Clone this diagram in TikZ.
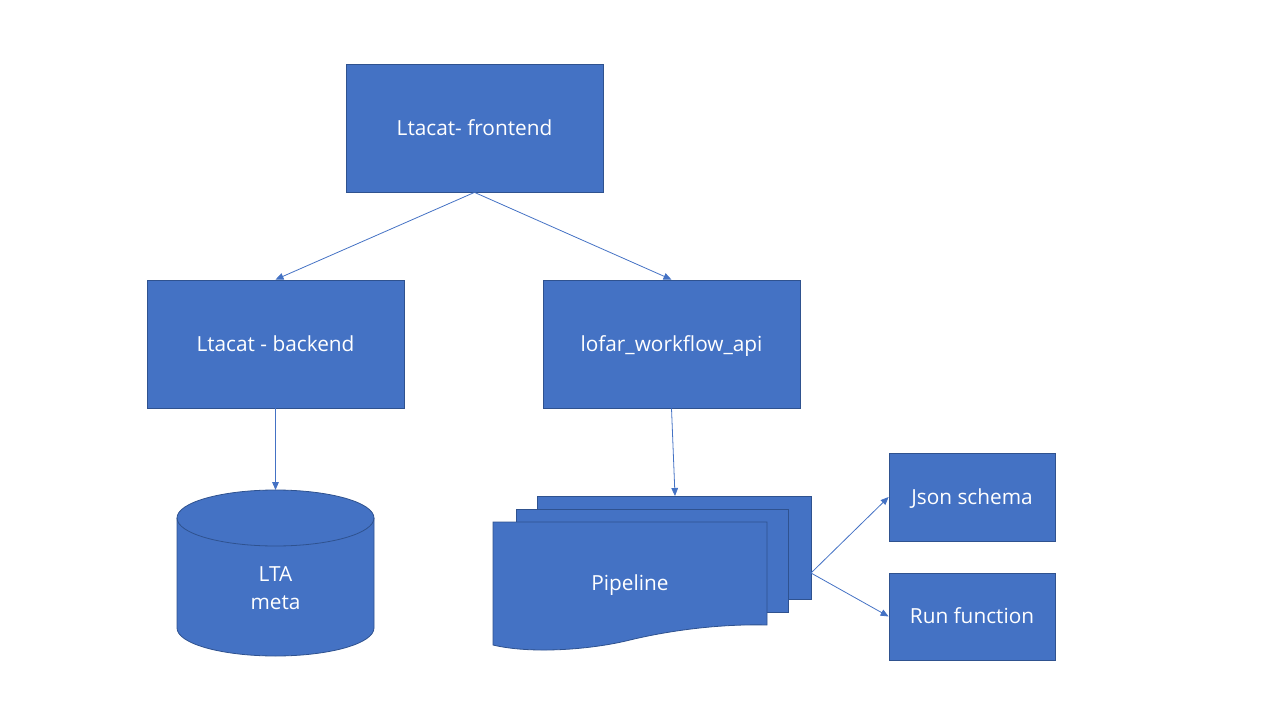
\documentclass[tikz,border=0pt]{standalone}
\usepackage{fontspec}
\setmainfont{Open Sans}
\usetikzlibrary{arrows.meta,shapes.geometric}
\definecolor{fillb}{HTML}{4472C4}
\definecolor{edgeb}{HTML}{2F528F}
\tikzset{
  boxn/.style={draw=edgeb,fill=fillb,line width=0.6pt,text=white,font=\fontsize{15.6}{19}\selectfont,text height=2.35ex,text depth=0.3ex},
  conn/.style={draw=fillb,line width=0.6pt,-{Triangle[length=6pt,width=5pt]}},
}
\begin{document}
\begin{tikzpicture}[x=0.75pt,y=-0.75pt]
\useasboundingbox (0,0) rectangle (1280,720);
% boxes
\node[boxn,minimum width=257*0.75pt,minimum height=128*0.75pt] (fe) at (474.5,128) {Ltacat- frontend};
\node[boxn,minimum width=257*0.75pt,minimum height=128*0.75pt] (be) at (275.5,344) {Ltacat - backend};
\node[boxn,minimum width=257*0.75pt,minimum height=128*0.75pt] (lw) at (671.5,344) {lofar\_workflow\_api};
\node[boxn,minimum width=166*0.75pt,minimum height=88*0.75pt] (js) at (972,497) {Json schema};
\node[boxn,minimum width=166*0.75pt,minimum height=87*0.75pt] (rf) at (972,616.5) {Run function};
% cylinder
\path[draw=edgeb,fill=fillb,line width=0.6pt] (177,518) -- (177,628) arc[start angle=180,end angle=0,x radius=98.5,y radius=28] -- (374,518) arc[start angle=0,end angle=-180,x radius=98.5,y radius=28] -- cycle;
\draw[edgeb,line width=0.6pt] (177,518) arc[start angle=180,end angle=0,x radius=98.5,y radius=28];
\node[text=white,font=\fontsize{15.6}{21}\selectfont,align=center] (lta) at (275.5,588) {LTA\\meta};
\coordinate (cyltop) at (275.5,490);
% pipeline stack
\path[draw=edgeb,fill=fillb,line width=0.6pt] (537,496) rectangle (811,599);
\coordinate (pback) at (675,496);
\coordinate (pright) at (811,573);
\path[draw=edgeb,fill=fillb,line width=0.6pt] (516,509) rectangle (788,612);
\path[draw=edgeb,fill=fillb,line width=0.6pt] (493,522) -- (767,522) -- (767,625)
  .. controls (730,624) and (680,628) .. (630,640)
  .. controls (590,650) and (530,654) .. (493,645) -- cycle;
\node[text=white,font=\fontsize{15.6}{19}\selectfont,text height=2.35ex,text depth=0.3ex] (pl) at (630,583) {Pipeline};
% connectors
\draw[conn] (fe.south) -- (be.north);
\draw[conn] (fe.south) -- (lw.north);
\draw[conn] (be.south) -- (cyltop);
\draw[conn] (lw.south) -- (pback);
\draw[conn] (pright) -- (js.west);
\draw[conn] (pright) -- (rf.west);
\end{tikzpicture}
\end{document}
